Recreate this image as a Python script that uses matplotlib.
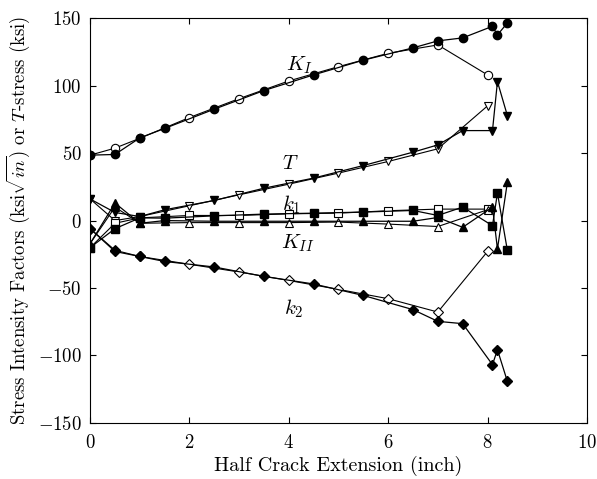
import matplotlib
matplotlib.use('Agg')
import matplotlib.pyplot as plt

plt.rcParams['font.family'] = 'cmr10'
plt.rcParams['mathtext.fontset'] = 'cm'
plt.rcParams['axes.formatter.use_mathtext'] = True

# filled symbols
x_f = [0, 0.5, 1, 1.5, 2.5, 3.5, 4.5, 5.5, 6.5, 7, 7.5, 8.1, 8.2, 8.4]
KI_f = [48.5, 49, 61.3, 68.3, 82.6, 96.4, 108, 118.9, 128, 133.2, 135.4, 144, 137.6, 146.5]
T_f = [16, 6, 3, 8, 14.9, 24, 31.5, 40.8, 50.7, 56.1, 66.7, 66.7, 103, 77.8]
k1_f = [-20, -6, 2, 1.8, 3.5, 4.8, 5.5, 6.3, 7.5, 3.8, 10, -3.8, 20.4, -22.1]
KII_f = [-17, 13, -2, 0, -0.5, -0.5, -0.5, -0.5, -0.5, 2.3, -5, 10, -21, 28.4]
k2_f = [-6, -22.9, -26.6, -30.3, -34.4, -41.4, -47, -55.5, -66, -74.7, -76.4, -106.8, -95.7, -119.2]

# open symbols
x_o = [0, 0.5, 1, 2, 3, 4, 5, 6, 7, 8]
KI_o = [48.5, 53.7, 61, 76.4, 90.4, 103.5, 114.1, 124, 130.2, 108]
T_o = [16, 0, 3, 11, 19.1, 27, 35.2, 43.8, 53.2, 85]
k1_o = [-20, -2, 2, 3.8, 3.8, 5, 5.5, 7.3, 8.5, 8.5]
KII_o = [-17, 10, -2, -1.5, -1.5, -1.5, -1.1, -2.6, -4.4, 8]
k2_o = [-6, -22, -26.6, -32.4, -38.1, -44.4, -51, -57.9, -67.8, -22.9]

fig = plt.figure(figsize=(5.97, 4.79), dpi=100)
ax = fig.add_axes([0.151, 0.117, 0.832, 0.845])

series = [(KI_o, KI_f, 'o'), (T_o, T_f, 'v'), (k1_o, k1_f, 's'),
          (KII_o, KII_f, '^'), (k2_o, k2_f, 'D')]
for yo, yf, m in series:
    ms = 5 if m == 'D' else 6
    ax.plot(x_o, yo, color='black', lw=0.8, marker=m, ms=ms,
            mfc='white', mec='black', mew=0.8)
for yo, yf, m in series:
    ms = 5 if m == 'D' else 6
    ax.plot(x_f, yf, color='black', lw=0.9, marker=m, ms=ms,
            mfc='black', mec='black')

# curve labels
ax.text(3.95, 115, '$K_I$', fontsize=15, ha='left', va='center')
ax.text(3.87, 42, '$T$', fontsize=15, ha='left', va='center')
ax.text(3.87, 12, '$k_1$', fontsize=15, ha='left', va='center')
ax.text(3.85, -17, '$K_{II}$', fontsize=15, ha='left', va='center')
ax.text(3.9, -65, '$k_2$', fontsize=15, ha='left', va='center')

ax.set_xlim(0, 10)
ax.set_ylim(-150, 150)
ax.set_xticks([0, 2, 4, 6, 8, 10])
ax.set_yticks([-150, -100, -50, 0, 50, 100, 150])
ax.tick_params(direction='in', top=True, right=True, labelsize=13.5, length=4)
ax.tick_params(axis='x', pad=8)
ax.tick_params(axis='y', pad=6)
ax.set_xlabel('Half Crack Extension (inch)', fontsize=14.5, labelpad=3)
ax.set_ylabel(r'Stress Intensity Factors (ksi$\sqrt{in}$) or $T$-stress (ksi)', fontsize=13.5)

fig.savefig('out.png', dpi=100)
